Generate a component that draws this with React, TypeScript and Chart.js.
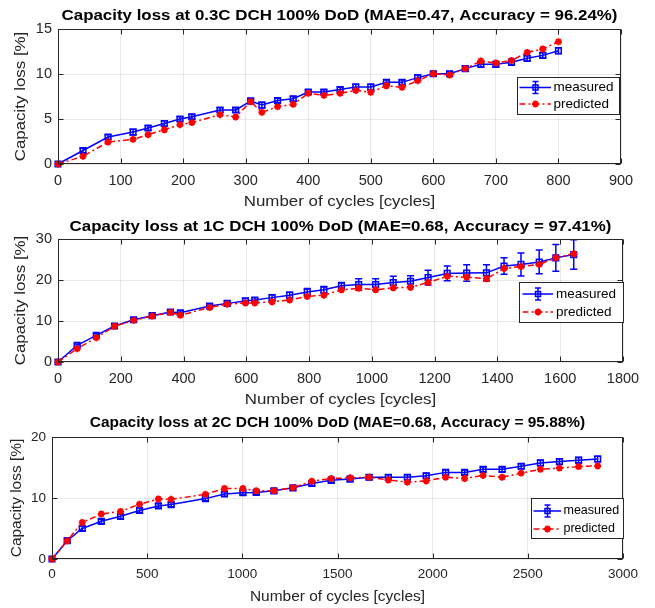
import React, { useEffect, useRef } from "react";
import { Chart, registerables } from "chart.js";
Chart.register(...registerables);

const FONT = '"Liberation Sans", Arial, Helvetica, sans-serif';
const W = 655;
const AXIS_COLOR = "#262626";
const GRID_COLOR = "rgba(0,0,0,0.085)";
const BLUE = "#0000ff";
const RED = "#ff0000";

// ---- Panel 1: 0.3C ----
const cycles03 = [0, 40, 80, 120, 144, 170, 195, 214, 259, 284, 308, 326, 351, 376, 400, 425, 451, 476, 500, 525, 550, 575, 600, 626, 651, 676, 700, 725, 750, 775, 800];
const measured03 = [0, 1.5, 3.0, 3.55, 4.0, 4.5, 5.0, 5.25, 6.0, 6.0, 7.0, 6.55, 7.05, 7.25, 8.0, 8.0, 8.28, 8.55, 8.55, 9.07, 9.07, 9.6, 10.03, 10.03, 10.6, 11.07, 11.07, 11.3, 11.74, 12.07, 12.59];
const error03 = [0, 0.25, 0.25, 0.3, 0.25, 0.3, 0.25, 0.25, 0.25, 0.25, 0.3, 0.3, 0.25, 0.25, 0.25, 0.25, 0.25, 0.3, 0.3, 0.25, 0.25, 0.3, 0.25, 0.25, 0.3, 0.3, 0.3, 0.3, 0.3, 0.3, 0.33];
const predicted03 = [0, 0.85, 2.44, 2.74, 3.26, 3.81, 4.37, 4.6, 5.48, 5.22, 6.93, 5.74, 6.37, 6.63, 7.85, 7.63, 7.85, 8.18, 7.96, 8.7, 8.52, 9.26, 10.03, 9.89, 10.6, 11.44, 11.22, 11.5, 12.4, 12.78, 13.59];

// ---- Panel 2: 1C ----
const cycles1C = [0, 61, 122, 180, 241, 300, 358, 390, 483, 539, 597, 627, 682, 738, 794, 847, 903, 958, 1012, 1068, 1123, 1179, 1240, 1302, 1365, 1421, 1475, 1533, 1586, 1643];
const measured1C = [0, 4.07, 6.5, 8.78, 10.3, 11.3, 12.2, 12.0, 13.66, 14.3, 14.9, 15.1, 15.7, 16.3, 17.1, 17.6, 18.6, 18.9, 18.9, 19.4, 19.7, 20.6, 21.6, 21.7, 21.75, 23.4, 23.8, 24.4, 25.4, 26.2];
const error1C = [0, 0.3, 0.4, 0.4, 0.5, 0.4, 0.5, 0.5, 0.5, 0.6, 0.6, 0.6, 0.7, 0.7, 0.8, 0.8, 0.8, 1.4, 1.4, 1.5, 1.35, 1.8, 1.8, 2.0, 2.0, 2.0, 2.8, 2.9, 3.25, 3.6];
const predicted1C = [0, 3.25, 5.93, 8.7, 10.16, 11.2, 12.1, 11.4, 13.3, 14.1, 14.4, 14.4, 14.7, 15.1, 16.0, 16.3, 17.6, 18.0, 17.6, 18.1, 18.2, 19.4, 20.9, 20.7, 20.3, 22.8, 23.3, 23.8, 25.4, 26.4];

// ---- Panel 3: 2C ----
const cycles2C = [0, 80, 159, 259, 360, 460, 559, 626, 806, 906, 1003, 1073, 1166, 1266, 1365, 1467, 1566, 1666, 1767, 1867, 1966, 2068, 2168, 2265, 2365, 2465, 2566, 2666, 2767, 2867];
const measured2C = [0, 3.0, 5.0, 6.18, 7.0, 7.96, 8.7, 8.92, 9.9, 10.65, 10.86, 10.9, 11.18, 11.67, 12.37, 12.9, 13.1, 13.4, 13.4, 13.4, 13.65, 14.2, 14.2, 14.7, 14.7, 15.2, 15.75, 15.97, 16.2, 16.4];
const error2C = [0, 0.35, 0.35, 0.35, 0.35, 0.35, 0.35, 0.35, 0.35, 0.35, 0.35, 0.35, 0.35, 0.35, 0.35, 0.35, 0.35, 0.4, 0.4, 0.4, 0.4, 0.4, 0.4, 0.4, 0.4, 0.4, 0.45, 0.45, 0.45, 0.45];
const predicted2C = [0, 3.0, 6.0, 7.37, 7.8, 8.98, 9.84, 9.78, 10.6, 11.56, 11.56, 11.18, 11.18, 11.7, 12.74, 13.2, 13.3, 13.4, 12.95, 12.6, 12.8, 13.4, 13.2, 13.7, 13.4, 14.08, 14.7, 14.9, 15.15, 15.26];

const titles = [
  "Capacity loss at 0.3C DCH 100% DoD (MAE=0.47, Accuracy = 96.24%)",
  "Capacity loss at 1C DCH 100% DoD (MAE=0.68, Accuracy = 97.41%)",
  "Capacity loss at 2C DCH 100% DoD (MAE=0.68, Accuracy = 95.88%)",
];
const xAxisTitle = "Number of cycles [cycles]";
const yAxisTitle = "Capacity loss [%]";
const legendLabels = ["measured", "predicted"];

type Spec = {
  top: number; height: number;
  area: { left: number; right: number; top: number; bottom: number };
  xMax: number; xStep: number; yMax: number; yStep: number;
  title: string; titleY: number; titleSize: number; stretch: number;
  labelSize: number; xTitleY: number; yTitleX: number;
  tickSize: number; tickPad: number;
  legend: { left: number; top: number; w: number; h: number; row1: number; row2: number; lineX0: number; lineX1: number; markX: number; textX: number; size: number };
  cycles: number[]; measured: number[]; err: number[]; predicted: number[];
};

const specs: Spec[] = [
  {
    top: 0, height: 215,
    area: { left: 58, right: 621, top: 29, bottom: 164 },
    xMax: 900, xStep: 100, yMax: 15, yStep: 5,
    title: titles[0], titleY: 16, titleSize: 15.5, stretch: 1.09,
    labelSize: 15.5, xTitleY: 202, yTitleX: 21,
    tickSize: 14.5, tickPad: 8,
    legend: { left: 517, top: 77, w: 102, h: 37, row1: 10.5, row2: 27, lineX0: 2.5, lineX1: 34, markX: 18.5, textX: 36.5, size: 13.5 },
    cycles: cycles03, measured: measured03, err: error03, predicted: predicted03,
  },
  {
    top: 215, height: 200,
    area: { left: 58, right: 623, top: 24, bottom: 147 },
    xMax: 1800, xStep: 200, yMax: 30, yStep: 10,
    title: titles[1], titleY: 12, titleSize: 15.5, stretch: 1.09,
    labelSize: 15.5, xTitleY: 185, yTitleX: 21,
    tickSize: 14.5, tickPad: 8,
    legend: { left: 519, top: 67, w: 104, h: 40, row1: 12, row2: 30, lineX0: 3.5, lineX1: 34, markX: 19, textX: 37, size: 13.5 },
    cycles: cycles1C, measured: measured1C, err: error1C, predicted: predicted1C,
  },
  {
    top: 415, height: 193,
    area: { left: 52, right: 623, top: 22, bottom: 144 },
    xMax: 3000, xStep: 500, yMax: 20, yStep: 10,
    title: titles[2], titleY: 8, titleSize: 15, stretch: 1.03,
    labelSize: 15, xTitleY: 182, yTitleX: 17,
    tickSize: 13.5, tickPad: 7,
    legend: { left: 531, top: 83, w: 92, h: 40, row1: 13, row2: 31, lineX0: 2.5, lineX1: 30, markX: 16.5, textX: 32.5, size: 12.5 },
    cycles: cycles2C, measured: measured2C, err: error2C, predicted: predicted2C,
  },
];

function drawText(ctx: CanvasRenderingContext2D, s: string, x: number, y: number, font: string, stretch: number, color: string, rotate = false, align: CanvasTextAlign = "center") {
  ctx.save();
  ctx.translate(x, y);
  if (rotate) ctx.rotate(-Math.PI / 2);
  ctx.scale(stretch, 1);
  ctx.font = font;
  ctx.fillStyle = color;
  ctx.textAlign = align;
  ctx.textBaseline = "middle";
  ctx.fillText(s, 0, 0);
  ctx.restore();
}

function drawStar(ctx: CanvasRenderingContext2D, x: number, y: number, r: number) {
  const d = r * Math.SQRT1_2;
  ctx.beginPath();
  ctx.moveTo(x - r, y); ctx.lineTo(x + r, y);
  ctx.moveTo(x, y - r); ctx.lineTo(x, y + r);
  ctx.moveTo(x - d, y - d); ctx.lineTo(x + d, y + d);
  ctx.moveTo(x - d, y + d); ctx.lineTo(x + d, y - d);
  ctx.stroke();
}

function makeDecor(spec: Spec) {
  return {
    id: "decor",
    beforeDraw(chart: any) {
      const ctx = chart.ctx;
      ctx.save();
      ctx.fillStyle = "#fff";
      ctx.fillRect(0, 0, chart.width, chart.height);
      ctx.restore();
    },
    afterDatasetDraw(chart: any, args: any) {
      if (args.index !== 0) return;
      const xs = chart.scales.x, ys = chart.scales.y, ctx = chart.ctx;
      ctx.save();
      ctx.strokeStyle = BLUE;
      ctx.lineWidth = 1.5;
      spec.err.forEach((e, i) => {
        if (!e) return;
        const px = xs.getPixelForValue(spec.cycles[i]);
        const y1 = ys.getPixelForValue(spec.measured[i] - e);
        const y2 = ys.getPixelForValue(spec.measured[i] + e);
        ctx.beginPath();
        ctx.moveTo(px, y1); ctx.lineTo(px, y2);
        ctx.moveTo(px - 3.5, y1); ctx.lineTo(px + 3.5, y1);
        ctx.moveTo(px - 3.5, y2); ctx.lineTo(px + 3.5, y2);
        ctx.stroke();
      });
      ctx.restore();
    },
    afterDraw(chart: any) {
      const ctx = chart.ctx;
      const a = chart.chartArea;
      const xs = chart.scales.x, ys = chart.scales.y;
      const L = Math.round(a.left) + 0.5, R = Math.round(a.right) - 0.5;
      const T = Math.round(a.top) + 0.5, B = Math.round(a.bottom) - 0.5;
      ctx.save();
      ctx.strokeStyle = AXIS_COLOR;
      ctx.lineWidth = 1;
      ctx.strokeRect(L, T, R - L, B - T);
      const tl = 5;
      ctx.beginPath();
      xs.ticks.forEach((t: any) => {
        const px = Math.round(xs.getPixelForValue(t.value)) + 0.5;
        ctx.moveTo(px, B); ctx.lineTo(px, B - tl);
        ctx.moveTo(px, T); ctx.lineTo(px, T + tl);
      });
      ys.ticks.forEach((t: any) => {
        const py = Math.round(ys.getPixelForValue(t.value)) + 0.5;
        ctx.moveTo(L, py); ctx.lineTo(L + tl, py);
        ctx.moveTo(R, py); ctx.lineTo(R - tl, py);
      });
      ctx.stroke();
      ctx.restore();

      const cx = (a.left + a.right) / 2;
      const cy = (a.top + a.bottom) / 2;
      drawText(ctx, spec.title, cx, spec.titleY, `bold ${spec.titleSize}px ${FONT}`, spec.stretch, "#000");
      drawText(ctx, xAxisTitle, cx, spec.xTitleY, `${spec.labelSize}px ${FONT}`, spec.stretch, AXIS_COLOR);
      drawText(ctx, yAxisTitle, spec.yTitleX, cy, `${spec.labelSize}px ${FONT}`, spec.stretch, AXIS_COLOR, true);

      // legend
      const lg = spec.legend;
      ctx.save();
      ctx.fillStyle = "#fff";
      ctx.fillRect(lg.left, lg.top, lg.w, lg.h);
      ctx.strokeStyle = AXIS_COLOR;
      ctx.lineWidth = 1;
      ctx.strokeRect(Math.round(lg.left) + 0.5, Math.round(lg.top) + 0.5, Math.round(lg.w), Math.round(lg.h));
      const x0 = lg.left + lg.lineX0, x1 = lg.left + lg.lineX1, mx = lg.left + lg.markX;
      const r1 = lg.top + lg.row1, r2 = lg.top + lg.row2;
      ctx.strokeStyle = BLUE;
      ctx.lineWidth = 1.5;
      ctx.beginPath();
      ctx.moveTo(x0, r1); ctx.lineTo(x1, r1);
      ctx.moveTo(mx, r1 - 6); ctx.lineTo(mx, r1 + 6);
      ctx.moveTo(mx - 3, r1 - 6); ctx.lineTo(mx + 3, r1 - 6);
      ctx.moveTo(mx - 3, r1 + 6); ctx.lineTo(mx + 3, r1 + 6);
      ctx.stroke();
      ctx.strokeRect(mx - 2.5, r1 - 2.5, 5, 5);
      ctx.strokeStyle = RED;
      ctx.setLineDash([6, 3, 2, 3]);
      ctx.beginPath();
      ctx.moveTo(x0, r2); ctx.lineTo(x1, r2);
      ctx.stroke();
      ctx.setLineDash([]);
      ctx.lineWidth = 2;
      drawStar(ctx, mx, r2, 3.5);
      ctx.restore();
      drawText(ctx, legendLabels[0], lg.left + lg.textX, r1, `${lg.size}px ${FONT}`, 1, "#000", false, "left");
      drawText(ctx, legendLabels[1], lg.left + lg.textX, r2, `${lg.size}px ${FONT}`, 1, "#000", false, "left");
    },
  };
}

function buildConfig(spec: Spec): any {
  const H = spec.height;
  const tickFont = { family: FONT, size: spec.tickSize };
  const plain = (v: any) => String(v);
  return {
    type: "line",
    data: {
      datasets: [
        {
          label: legendLabels[0],
          data: spec.cycles.map((c, i) => ({ x: c, y: spec.measured[i] })),
          borderColor: BLUE,
          backgroundColor: "rgba(0,0,0,0)",
          borderWidth: 1.5,
          pointStyle: "rect",
          pointRadius: 4,
          pointBorderWidth: 1.5,
          pointBorderColor: BLUE,
          pointBackgroundColor: "rgba(0,0,0,0)",
          tension: 0,
          clip: false,
          order: 1,
        },
        {
          label: legendLabels[1],
          data: spec.cycles.map((c, i) => ({ x: c, y: spec.predicted[i] })),
          borderColor: RED,
          backgroundColor: RED,
          borderWidth: 1.5,
          borderDash: [6, 3, 2, 3],
          pointStyle: "star",
          pointRadius: 3.5,
          pointBorderWidth: 2,
          pointBorderColor: RED,
          pointBackgroundColor: RED,
          tension: 0,
          clip: false,
          order: 0,
        },
      ],
    },
    options: {
      responsive: false,
      animation: false,
      devicePixelRatio: 1,
      layout: {
        autoPadding: false,
        padding: { left: 0, top: spec.area.top, right: W - spec.area.right, bottom: 0 },
      },
      plugins: { legend: { display: false }, tooltip: { enabled: false }, title: { display: false } },
      scales: {
        x: {
          type: "linear",
          min: 0,
          max: spec.xMax,
          ticks: { stepSize: spec.xStep, font: tickFont, color: AXIS_COLOR, padding: spec.tickPad, maxRotation: 0, autoSkip: false, callback: plain },
          grid: { color: GRID_COLOR, drawTicks: false },
          border: { display: false },
          afterFit: (s: any) => { s.height = H - spec.area.bottom; },
        },
        y: {
          type: "linear",
          min: 0,
          max: spec.yMax,
          ticks: { stepSize: spec.yStep, font: tickFont, color: AXIS_COLOR, padding: 6, autoSkip: false, callback: plain },
          grid: { color: GRID_COLOR, drawTicks: false },
          border: { display: false },
          afterFit: (s: any) => { s.width = spec.area.left; },
        },
      },
    },
    plugins: [makeDecor(spec)],
  };
}

function Panel({ spec }: { spec: Spec }) {
  const ref = useRef<HTMLCanvasElement>(null);
  useEffect(() => {
    const chart = new Chart(ref.current as HTMLCanvasElement, buildConfig(spec));
    return () => chart.destroy();
  }, [spec]);
  return (
    <canvas
      ref={ref}
      width={W}
      height={spec.height}
      style={{ position: "absolute", left: 0, top: spec.top, width: W, height: spec.height }}
    />
  );
}

export default function App() {
  return (
    <div style={{ position: "absolute", left: 0, top: 0, width: W, height: 608, background: "#fff", overflow: "hidden" }}>
      {specs.map((s, i) => (
        <Panel key={i} spec={s} />
      ))}
    </div>
  );
}
